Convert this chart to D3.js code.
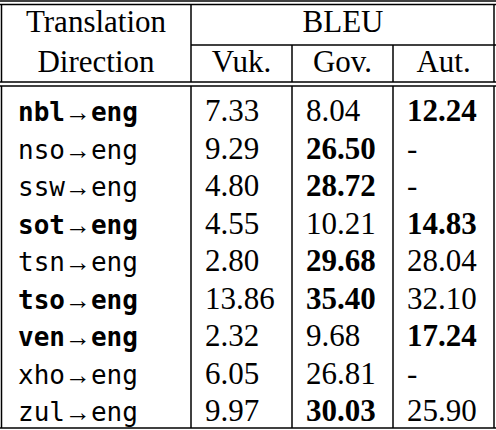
<!DOCTYPE html>
<html><head><meta charset="utf-8">
<script src="https://cdn.jsdelivr.net/npm/d3@7"></script>
<style>body{margin:0;background:#fff}</style></head>
<body><div class="tbl"></div>
<script>
const directions = ["nbl", "nso", "ssw", "sot", "tsn", "tso", "ven", "xho", "zul"];
const boldDirection = [true, false, false, true, false, true, true, false, false];
const columns = ["Vuk.", "Gov.", "Aut."];
const vuk = ["7.33", "9.29", "4.80", "4.55", "2.80", "13.86", "2.32", "6.05", "9.97"];
const gov = ["8.04", "26.50", "28.72", "10.21", "29.68", "35.40", "9.68", "26.81", "30.03"];
const aut = ["12.24", "-", "-", "14.83", "28.04", "32.10", "17.24", "-", "25.90"];
const bestCol = [2, 1, 1, 2, 1, 1, 2, -1, 1];

const width = 496, height = 430;
const svg = d3.select("div.tbl").append("svg").attr("width", width).attr("height", height);
const serif = "'Liberation Serif', 'Times New Roman', serif";
const mono = "'DejaVu Sans Mono', monospace";

const xLines = [1.5, 191, 292, 393, 494];
const y = d3.scaleLinear().domain([0, 8]).range([121, 421]);

function line(x1, y1, x2, y2, w = 1.5) {
  svg.append("line").attr("x1", x1).attr("y1", y1).attr("x2", x2).attr("y2", y2)
    .attr("stroke", "#000").attr("stroke-width", w);
}
function text(x, yy, s, opts = {}) {
  return svg.append("text").attr("x", x).attr("y", yy)
    .attr("text-anchor", opts.anchor || "start")
    .style("font-family", opts.font || serif)
    .style("font-size", (opts.size || 31) + "px")
    .style("font-weight", opts.bold ? "bold" : "normal")
    .text(s);
}

// rules
line(0, 1, width, 1);
line(0, 4.5, width, 4.5);
line(xLines[1], 45, width, 45);
line(0, 82, width, 82);
line(0, 86, width, 86);
line(0, 428, width, 428);
xLines.forEach((x, i) => {
  if (i === 0 || i === 4 || i === 1) { line(x, 4.5, x, 82); line(x, 86, x, 428); }
  else { line(x, 45, x, 82); line(x, 86, x, 428); }
});

// header
text(96, 32, "Translation", { anchor: "middle" });
text(96, 72, "Direction", { anchor: "middle" });
text(343, 32, "BLEU", { anchor: "middle" });
columns.forEach((c, i) => text((xLines[i + 1] + xLines[i + 2]) / 2, 72, c, { anchor: "middle" }));

// body
const vals = [vuk, gov, aut];
directions.forEach((d, r) => {
  const t = text(18, y(r), "", { font: mono, size: 26, bold: boldDirection[r] });
  t.append("tspan").text(d);
  t.append("tspan").style("font-family", serif).style("font-weight", "normal").text("\u2192");
  t.append("tspan").text("eng");
  vals.forEach((col, c) => {
    text(xLines[c + 1] + 14, y(r), col[r], { bold: bestCol[r] === c });
  });
});
</script></body></html>
